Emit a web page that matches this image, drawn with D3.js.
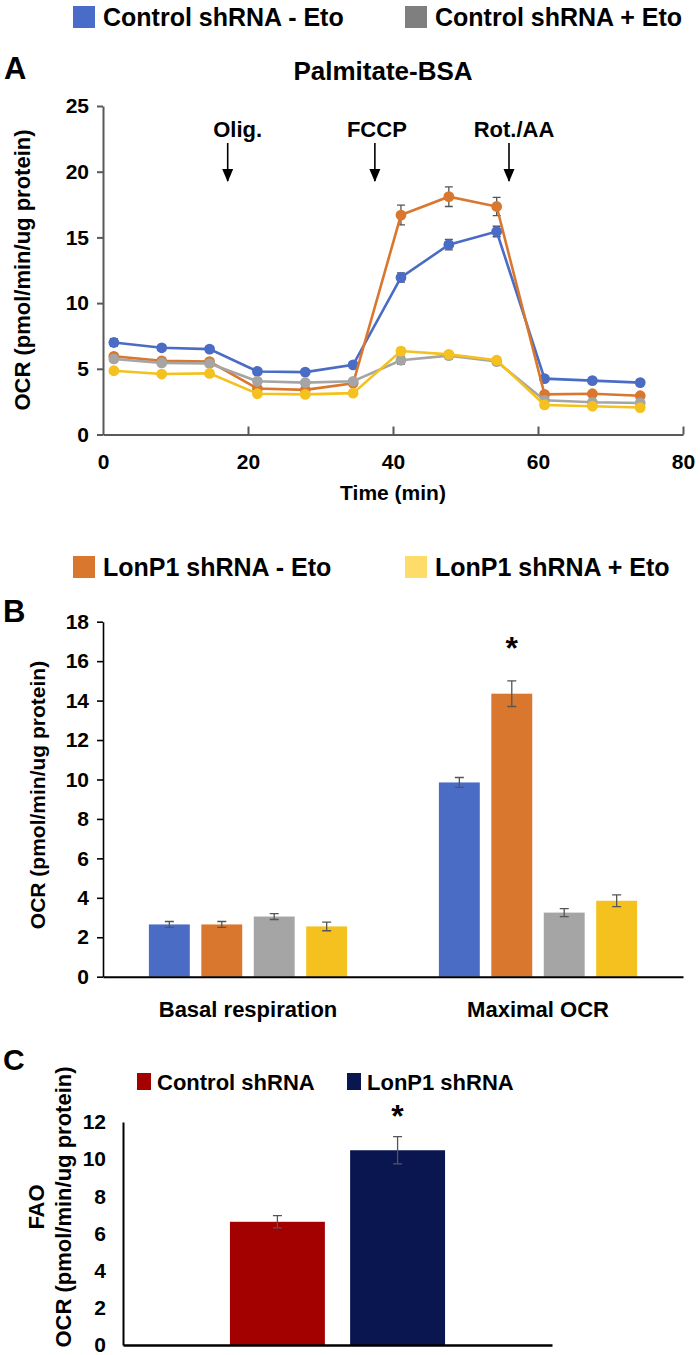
<!DOCTYPE html>
<html><head><meta charset="utf-8">
<script src="https://cdn.jsdelivr.net/npm/d3@7"></script>
<style>
html,body{margin:0;padding:0;background:#fff;}
svg{display:block;font-family:"Liberation Sans",Arial,sans-serif;font-weight:bold;}
</style></head>
<body>
<svg id="chart" width="700" height="1355"></svg>
<script>
// ---------- DATA ----------
const seriesNames = ["Control shRNA - Eto", "LonP1 shRNA - Eto", "Control shRNA + Eto", "LonP1 shRNA + Eto"];
const seriesColors = ["#4a6cc5", "#d9772f", "#a5a5a5", "#f5c11e"];
const legendColors = ["#4a6cc9", "#d9772f", "#7f7f7f", "#fedc6a"];

const times = [1.5, 8.1, 14.7, 21.3, 27.9, 34.5, 41.1, 47.7, 54.3, 60.9, 67.5, 74.1];
const ctrlMinus = [7.0, 6.6, 6.5, 4.8, 4.75, 5.3, 11.95, 14.45, 15.45, 4.25, 4.1, 3.95];
const lonMinus  = [5.95, 5.6, 5.55, 3.5, 3.4, 3.9, 16.7, 18.1, 17.35, 3.05, 3.1, 2.95];
const ctrlPlus  = [5.75, 5.45, 5.4, 4.05, 3.95, 4.05, 5.65, 6.0, 5.55, 2.6, 2.45, 2.4];
const lonPlus   = [4.85, 4.6, 4.65, 3.1, 3.05, 3.15, 6.35, 6.1, 5.65, 2.25, 2.15, 2.05];
const ctrlMinusErr = [0.3, 0.2, 0.2, 0.15, 0.15, 0.2, 0.35, 0.4, 0.4, 0.15, 0.15, 0.15];
const lonMinusErr  = [0.2, 0.2, 0.2, 0.15, 0.15, 0.2, 0.75, 0.75, 0.7, 0.15, 0.15, 0.15];
const ctrlPlusErr  = [0.2, 0.15, 0.15, 0.15, 0.15, 0.15, 0.3, 0.25, 0.2, 0.15, 0.15, 0.15];
const lonPlusErr   = [0.15, 0.15, 0.15, 0.15, 0.15, 0.15, 0.25, 0.2, 0.2, 0.15, 0.15, 0.15];

const injectionLabels = ["Olig.", "FCCP", "Rot./AA"];
const injectionTimes = [17.2, 37.5, 56.0];

const xTicksA = [0, 20, 40, 60, 80];
const yTicksA = [0, 5, 10, 15, 20, 25];

const barCategories = ["Basal respiration", "Maximal OCR"];
const basalValues = [2.65, 2.65, 3.05, 2.55];
const basalErrors = [0.15, 0.15, 0.15, 0.22];
const maximalValues = [9.85, 14.35, 3.25, 3.85];
const maximalErrors = [0.25, 0.65, 0.2, 0.3];
const yTicksB = [0, 2, 4, 6, 8, 10, 12, 14, 16, 18];

const faoGroups = ["Control shRNA", "LonP1 shRNA"];
const faoValues = [6.63, 10.48];
const faoErrors = [0.33, 0.73];
const faoColors = ["#a30000", "#0a1650"];
const yTicksC = [0, 2, 4, 6, 8, 10, 12];

// ---------- HELPERS ----------
const svg = d3.select("#chart");
const FONT = 21;

function legendItem(x, y, color, label) {
  svg.append("rect").attr("x", x).attr("y", y).attr("width", 22).attr("height", 22).attr("fill", color);
  svg.append("text").attr("x", x + 30).attr("y", y + 20).attr("font-size", 25).attr("fill", "#000").text(label);
}

// ---------- LEGENDS (A/B) ----------
legendItem(73, 6, legendColors[0], seriesNames[0]);
legendItem(405, 6, legendColors[2], seriesNames[2]);
legendItem(73, 556, legendColors[1], seriesNames[1]);
legendItem(405, 556, legendColors[3], seriesNames[3]);

// ---------- PANEL A ----------
svg.append("text").attr("x", 4).attr("y", 79).attr("font-size", 31).text("A");
svg.append("text").attr("x", 383).attr("y", 80).attr("font-size", 26).attr("text-anchor", "middle").text("Palmitate-BSA");

const xA = d3.scaleLinear().domain([0, 80]).range([103, 683]);
const yA = d3.scaleLinear().domain([0, 25]).range([434.5, 106]);

const axisColor = "#595959";
const gyA = svg.append("g").attr("transform", "translate(103,0)")
  .call(d3.axisLeft(yA).tickValues(yTicksA).tickSize(6).tickPadding(8).tickSizeOuter(0));
const gxA = svg.append("g").attr("transform", "translate(0,434.5)")
  .call(d3.axisBottom(xA).tickValues(xTicksA).tickSize(-8).tickPadding(20).tickSizeOuter(0));
[gyA, gxA].forEach(g => {
  g.select(".domain").attr("stroke", axisColor).attr("stroke-width", 2);
  g.selectAll(".tick line").attr("stroke", axisColor).attr("stroke-width", 2);
  g.selectAll("text").attr("font-size", FONT).attr("font-family", "Liberation Sans, Arial, sans-serif").attr("font-weight", "bold").attr("fill", "#000");
});
gxA.selectAll(".tick").filter(d => d === 0).select("line").remove();

svg.append("text").attr("transform", "translate(22,270) rotate(-90)")
  .attr("text-anchor", "middle").attr("dominant-baseline", "central").attr("font-size", 22)
  .text("OCR (pmol/min/ug protein)");
svg.append("text").attr("x", 393).attr("y", 500).attr("text-anchor", "middle").attr("font-size", 21).text("Time (min)");

// injection arrows
const textOffsets = [10, 2, 5];
injectionLabels.forEach((lab, i) => {
  const x = xA(injectionTimes[i]);
  svg.append("text").attr("x", x + textOffsets[i]).attr("y", 137).attr("text-anchor", "middle").attr("font-size", 22).text(lab);
  svg.append("line").attr("x1", x).attr("x2", x).attr("y1", 143).attr("y2", 181)
    .attr("stroke", "#000").attr("stroke-width", 1.6);
  svg.append("path").attr("d", `M${x - 5.5},${169} L${x + 5.5},${169} L${x},${182} Z`).attr("fill", "#000");
});

const lineData = [
  {vals: ctrlMinus, errs: ctrlMinusErr, color: seriesColors[0]},
  {vals: lonMinus, errs: lonMinusErr, color: seriesColors[1]},
  {vals: ctrlPlus, errs: ctrlPlusErr, color: seriesColors[2]},
  {vals: lonPlus, errs: lonPlusErr, color: seriesColors[3]}
];
const line = d3.line().x((d, i) => xA(times[i])).y(d => yA(d));
lineData.forEach(s => {
  const g = svg.append("g");
  g.selectAll(".eb").data(s.vals).enter().append("path")
    .attr("d", (d, i) => {
      const x = xA(times[i]), y1 = yA(d + s.errs[i]), y2 = yA(d - s.errs[i]);
      return `M${x},${y1}V${y2}M${x - 4},${y1}H${x + 4}M${x - 4},${y2}H${x + 4}`;
    })
    .attr("stroke", "#555").attr("stroke-width", 1.3).attr("fill", "none");
  g.append("path").datum(s.vals).attr("d", line).attr("fill", "none")
    .attr("stroke", s.color).attr("stroke-width", 2.6);
  g.selectAll("circle").data(s.vals).enter().append("circle")
    .attr("cx", (d, i) => xA(times[i])).attr("cy", d => yA(d)).attr("r", 5.4).attr("fill", s.color);
});

// ---------- PANEL B ----------
svg.append("text").attr("x", 3).attr("y", 622).attr("font-size", 31).text("B");

const x0B = d3.scaleBand().domain(barCategories).range([103, 683]).paddingInner(0).paddingOuter(0);
const x1B = d3.scaleBand().domain(seriesNames).range([0, x0B.bandwidth()]).paddingInner(0.22).paddingOuter(0.875);
const yB = d3.scaleLinear().domain([0, 18]).range([976.7, 621.7]);

const gyB = svg.append("g").attr("transform", "translate(103,0)")
  .call(d3.axisLeft(yB).tickValues(yTicksB).tickSize(6).tickPadding(8).tickSizeOuter(0));
gyB.select(".domain").attr("stroke", "#000").attr("stroke-width", 1.6);
gyB.selectAll(".tick line").attr("stroke", "#000").attr("stroke-width", 1.6);
gyB.selectAll("text").attr("font-size", FONT).attr("font-family", "Liberation Sans, Arial, sans-serif").attr("font-weight", "bold").attr("fill", "#000");

const barGroups = [
  {cat: barCategories[0], vals: basalValues, errs: basalErrors},
  {cat: barCategories[1], vals: maximalValues, errs: maximalErrors}
];
barGroups.forEach(gr => {
  const g = svg.append("g").attr("transform", `translate(${x0B(gr.cat)},0)`);
  g.selectAll("rect").data(gr.vals).enter().append("rect")
    .attr("x", (d, i) => x1B(seriesNames[i])).attr("width", x1B.bandwidth())
    .attr("y", d => yB(d)).attr("height", d => yB(0) - yB(d))
    .attr("fill", (d, i) => seriesColors[i]);
  g.selectAll(".eb").data(gr.vals).enter().append("path")
    .attr("d", (d, i) => {
      const x = x1B(seriesNames[i]) + x1B.bandwidth() / 2, y1 = yB(d + gr.errs[i]), y2 = yB(d - gr.errs[i]);
      return `M${x},${y1}V${y2}M${x - 4.5},${y1}H${x + 4.5}M${x - 4.5},${y2}H${x + 4.5}`;
    })
    .attr("stroke", "#555").attr("stroke-width", 1.3).attr("fill", "none");
});
const gxB = svg.append("g").attr("transform", "translate(0,976.7)")
  .call(d3.axisBottom(x0B).tickSize(0).tickPadding(40));
gxB.select(".domain").attr("stroke", "#000").attr("stroke-width", 2);
gxB.selectAll("text").attr("font-size", 22).attr("font-family", "Liberation Sans, Arial, sans-serif").attr("font-weight", "bold").attr("fill", "#000").attr("dy", 0);

// significance star
svg.append("text").attr("x", x0B(barCategories[1]) + x1B(seriesNames[1]) + x1B.bandwidth() / 2)
  .attr("y", yB(maximalValues[1] + maximalErrors[1]) - 22).attr("text-anchor", "middle").attr("font-size", 32).text("*");

svg.append("text").attr("transform", "translate(37,795) rotate(-90)")
  .attr("text-anchor", "middle").attr("dominant-baseline", "central").attr("font-size", 21)
  .text("OCR (pmol/min/ug protein)");

// ---------- PANEL C ----------
svg.append("text").attr("x", 3).attr("y", 1070).attr("font-size", 30).text("C");
[[137, faoColors[0], faoGroups[0]], [347, faoColors[1], faoGroups[1]]].forEach(([x, c, l]) => {
  svg.append("rect").attr("x", x).attr("y", 1073).attr("width", 14).attr("height", 17).attr("fill", c);
  svg.append("text").attr("x", x + 20).attr("y", 1090).attr("font-size", 22).text(l);
});

const xC = d3.scaleBand().domain(faoGroups).range([123, 552]).paddingInner(0.21).paddingOuter(0.89);
const yC = d3.scaleLinear().domain([0, 12]).range([1345, 1122]);

svg.append("g").selectAll("rect").data(faoValues).enter().append("rect")
  .attr("x", (d, i) => xC(faoGroups[i])).attr("width", xC.bandwidth())
  .attr("y", d => yC(d)).attr("height", d => yC(0) - yC(d))
  .attr("fill", (d, i) => faoColors[i]);
svg.append("g").selectAll("path").data(faoValues).enter().append("path")
  .attr("d", (d, i) => {
    const x = xC(faoGroups[i]) + xC.bandwidth() / 2, y1 = yC(d + faoErrors[i]), y2 = yC(d - faoErrors[i]);
    return `M${x},${y1}V${y2}M${x - 4.5},${y1}H${x + 4.5}M${x - 4.5},${y2}H${x + 4.5}`;
  })
  .attr("stroke", "#555").attr("stroke-width", 1.3).attr("fill", "none");

const gyC = svg.append("g").attr("transform", "translate(123,0)")
  .call(d3.axisLeft(yC).tickValues(yTicksC).tickSize(0).tickPadding(17));
gyC.select(".domain").attr("stroke", "#000").attr("stroke-width", 2);
gyC.selectAll("text").attr("font-size", FONT).attr("font-family", "Liberation Sans, Arial, sans-serif").attr("font-weight", "bold").attr("fill", "#000");
const gxC = svg.append("g").attr("transform", "translate(0,1345)")
  .call(d3.axisBottom(xC).tickSize(0).tickFormat(""));
gxC.select(".domain").attr("stroke", "#000").attr("stroke-width", 2.4);

svg.append("text").attr("x", xC(faoGroups[1]) + xC.bandwidth() / 2)
  .attr("y", yC(faoValues[1] + faoErrors[1]) - 10).attr("text-anchor", "middle").attr("font-size", 32).text("*");

svg.append("text").attr("transform", "translate(36,1207) rotate(-90)")
  .attr("text-anchor", "middle").attr("dominant-baseline", "central").attr("font-size", 22).text("FAO");
svg.append("text").attr("transform", "translate(63,1207) rotate(-90)")
  .attr("text-anchor", "middle").attr("dominant-baseline", "central").attr("font-size", 22)
  .text("OCR (pmol/min/ug protein)");
</script>
</body></html>
